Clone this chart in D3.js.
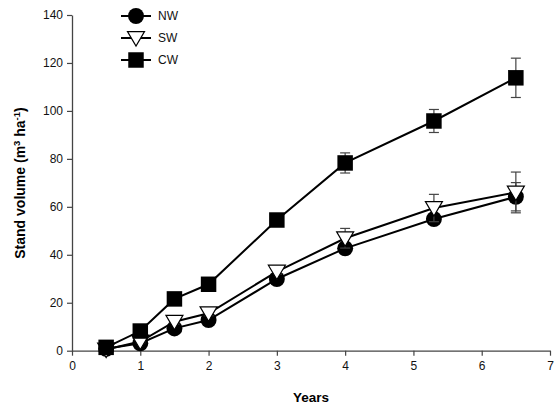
<!DOCTYPE html>
<html>
<head>
<meta charset="utf-8">
<script src="https://cdn.jsdelivr.net/npm/d3@7"></script>
<style>
  body { margin: 0; background: #fff; }
  svg { display: block; font-family: "Liberation Sans", Arial, sans-serif; }
</style>
</head>
<body>
<div id="chart"></div>
<script>
// years sampled
const years = [0.5, 1, 1.5, 2, 3, 4, 5.3, 6.5];

// stand volume (m3/ha) per treatment
const nw = [0.8, 3.1, 9.3, 12.8, 29.9, 42.7, 54.9, 64.2];
const sw = [0.5, 3.8, 12.1, 15.6, 33.0, 46.9, 59.5, 66.0];
const cw = [1.4, 8.2, 21.6, 27.7, 54.5, 78.3, 95.8, 113.8];

// standard errors
const nwErr = [0.3, 0.5, 1, 1, 1, 1, 1, 5.9];
const swErr = [0.3, 0.5, 1, 1, 1, 4.1, 5.7, 8.5];
const cwErr = [0.5, 1, 1, 1, 1, 4.2, 4.8, 8.2];

const xTicks = [0, 1, 2, 3, 4, 5, 6, 7];
const yTicks = [0, 20, 40, 60, 80, 100, 120, 140];

const series = [
  { name: "NW", values: nw, err: nwErr, shape: "circle" },
  { name: "SW", values: sw, err: swErr, shape: "triangle" },
  { name: "CW", values: cw, err: cwErr, shape: "square" }
];

const width = 554, height = 409;
const margin = { left: 72, right: 3, top: 15, bottom: 58 };

const svg = d3.select("#chart").append("svg")
  .attr("width", width)
  .attr("height", height);

const x = d3.scaleLinear().domain([0, 7]).range([margin.left, 550]);
const y = d3.scaleLinear().domain([0, 140]).range([350.7, margin.top]);

// axes
const xAxis = svg.append("g")
  .attr("transform", `translate(0,${y(0)})`)
  .call(d3.axisBottom(x).tickValues(xTicks).tickFormat(d3.format("d"))
    .tickSize(5).tickSizeOuter(0).tickPadding(6));
const yAxis = svg.append("g")
  .attr("transform", `translate(${x(0)},0)`)
  .call(d3.axisLeft(y).tickValues(yTicks).tickFormat(d3.format("d"))
    .tickSize(5).tickSizeOuter(0).tickPadding(4));

[xAxis, yAxis].forEach(g => {
  g.select(".domain").attr("stroke", "#444").attr("stroke-width", 1.3);
  g.selectAll(".tick line").attr("stroke", "#444").attr("stroke-width", 1.2);
  g.selectAll(".tick text")
    .attr("font-family", "Liberation Sans, Arial, sans-serif")
    .attr("font-size", 12)
    .attr("fill", "#111");
});

// axis titles
svg.append("text")
  .attr("x", 311)
  .attr("y", 402)
  .attr("text-anchor", "middle")
  .attr("font-size", 13.5)
  .attr("font-weight", "bold")
  .text("Years");

const yt = svg.append("text")
  .attr("transform", `translate(25,183) rotate(-90)`)
  .attr("text-anchor", "middle")
  .attr("font-size", 14)
  .attr("font-weight", "bold");
yt.append("tspan").text("Stand volume (m");
yt.append("tspan").attr("dy", -5).attr("font-size", 9.5).text("3");
yt.append("tspan").attr("dy", 5).text(" ha");
yt.append("tspan").attr("dy", -5).attr("font-size", 9.5).text("-1");
yt.append("tspan").attr("dy", 5).text(")");

// marker drawing
const symbolFor = {
  circle: d3.symbol(d3.symbolCircle, 200),
  square: d3.symbol(d3.symbolSquare, 240),
  triangle: null
};
function drawMarker(g, shape, cx, cy) {
  if (shape === "triangle") {
    const s = 8.5;
    g.append("path")
      .attr("d", `M${cx - s},${cy - s * 0.75}L${cx + s},${cy - s * 0.75}L${cx},${cy + s * 0.95}Z`)
      .attr("fill", "#fff")
      .attr("stroke", "#000")
      .attr("stroke-width", 1.2);
  } else {
    g.append("path")
      .attr("d", symbolFor[shape]())
      .attr("transform", `translate(${cx},${cy})`)
      .attr("fill", "#000");
  }
}

const line = d3.line()
  .x(d => x(d[0]))
  .y(d => y(d[1]));

series.forEach(s => {
  const g = svg.append("g");
  const pts = years.map((yr, i) => [yr, s.values[i], s.err[i]]);

  // error bars
  pts.forEach(p => {
    const cx = x(p[0]);
    const top = y(p[1] + p[2]), bot = y(p[1] - p[2]);
    g.append("line").attr("x1", cx).attr("x2", cx).attr("y1", top).attr("y2", bot)
      .attr("stroke", "#444").attr("stroke-width", 1.2);
    [top, bot].forEach(v => {
      g.append("line").attr("x1", cx - 5).attr("x2", cx + 5).attr("y1", v).attr("y2", v)
        .attr("stroke", "#444").attr("stroke-width", 1.2);
    });
  });

  g.append("path")
    .datum(pts)
    .attr("d", line)
    .attr("fill", "none")
    .attr("stroke", "#000")
    .attr("stroke-width", 2);

  pts.forEach(p => drawMarker(g, s.shape, x(p[0]), y(p[1])));
});

// legend
const legend = svg.append("g");
series.forEach((s, i) => {
  const ly = 16 + i * 22;
  legend.append("line")
    .attr("x1", 121).attr("x2", 151).attr("y1", ly).attr("y2", ly)
    .attr("stroke", "#000").attr("stroke-width", 2);
  drawMarker(legend, s.shape, 136, ly);
  legend.append("text")
    .attr("x", 158)
    .attr("y", ly + 4)
    .attr("font-size", 12)
    .attr("fill", "#111")
    .text(s.name);
});
</script>
</body>
</html>
